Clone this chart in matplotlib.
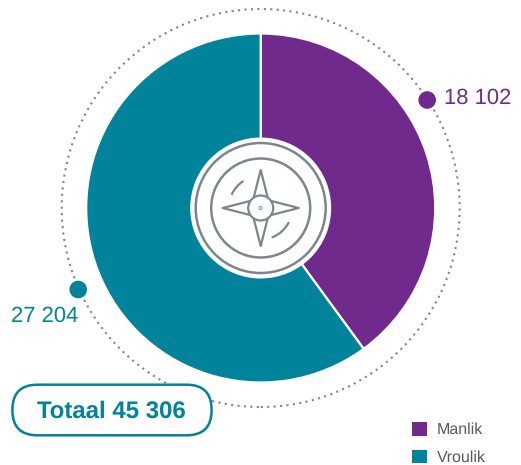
import matplotlib
matplotlib.use('Agg')
import matplotlib.pyplot as plt
import numpy as np
from matplotlib.patches import Circle, FancyBboxPatch, Patch, Arc, Polygon

categories = ['Manlik', 'Vroulik']
values = [18102, 27204]
value_labels = ['18 102', '27 204']
total_label = 'Totaal 45 306'

PURPLE = '#6F2A8C'
TEAL = '#00839B'
GREY = '#7B8691'

plt.rcParams['font.family'] = ['Liberation Sans', 'DejaVu Sans']
plt.rcParams['text.hinting'] = 'no_hinting'
plt.rcParams['text.hinting_factor'] = 1

fig = plt.figure(figsize=(5.21, 4.65), dpi=100)
ax = fig.add_axes([0, 0, 1, 1])

# pie centred on the origin, axes units are pixels
ax.pie(values, colors=[PURPLE, TEAL], startangle=90, counterclock=False,
       radius=174.5, center=(0, 0), frame=True,
       wedgeprops={'edgecolor': 'white', 'linewidth': 1.6})

ax.set_xlim(-260.7, 260.3)
ax.set_ylim(-257, 208)
ax.set_aspect('equal')
ax.axis('off')

# dotted outer ring
ax.add_patch(Circle((0, 0), 199, fill=False, edgecolor=GREY, linewidth=1.5,
                    linestyle=(0, (1, 2.1)), zorder=1))

# compass icon
ax.add_patch(Circle((0, 0), 70.5, facecolor='white', edgecolor='none', zorder=3))
ax.add_patch(Circle((0, 0), 65, fill=False, edgecolor=GREY, linewidth=1.8, zorder=4))
ax.add_patch(Circle((0, 0), 49.5, fill=False, edgecolor=GREY, linewidth=1.8, zorder=4))
ax.add_patch(Circle((0, 0), 12.5, fill=False, edgecolor=GREY, linewidth=1.6, zorder=5))
ax.add_patch(Circle((0, 0), 1.6, fill=False, edgecolor=GREY, linewidth=0.6, zorder=5))

for ang in [0, 90, 180, 270]:
    t = np.deg2rad(ang)
    tip = (38 * np.cos(t), 38 * np.sin(t))
    s1 = (12.5 * np.cos(t + 0.6), 12.5 * np.sin(t + 0.6))
    s2 = (12.5 * np.cos(t - 0.6), 12.5 * np.sin(t - 0.6))
    ax.add_patch(Polygon([s1, tip, s2], closed=False, fill=False, edgecolor=GREY,
                         linewidth=1.6, joinstyle='round', zorder=5))

ax.add_patch(Arc((0, 0), 64, 64, theta1=124, theta2=154, edgecolor=GREY,
                 linewidth=1.6, capstyle='round', zorder=5))
ax.add_patch(Arc((0, 0), 63, 63, theta1=292, theta2=332, edgecolor=GREY,
                 linewidth=1.6, capstyle='round', zorder=5))

# value markers and labels
ax.add_patch(Circle((166.5, 108), 8.8, facecolor=PURPLE, edgecolor='none', zorder=6))
ax.add_patch(Circle((-182.5, -81.5), 8.8, facecolor=TEAL, edgecolor='none', zorder=6))
ax.text(183.2, 109.5, value_labels[0], color=PURPLE, fontsize=16, ha='left', va='center')
ax.text(-182, -108, value_labels[1], color=TEAL, fontsize=16, ha='right', va='center')

# total pill
pill = FancyBboxPatch((-223.5, -202.5), 149.6, 1, boxstyle='round,pad=24.8,rounding_size=25',
                      facecolor='white', edgecolor=TEAL, linewidth=1.8, zorder=7)
ax.add_patch(pill)
ax.text(-149.5, -203.5, total_label, color=TEAL, fontsize=17.2, fontweight='bold',
        ha='center', va='center', zorder=8)

handles = [Patch(facecolor=PURPLE, edgecolor='none'), Patch(facecolor=TEAL, edgecolor='none')]
ax.legend(handles, categories, loc='upper left', bbox_to_anchor=(151.5, -214),
          bbox_transform=ax.transData, frameon=False, fontsize=11.5,
          labelcolor='#595959', borderpad=0, borderaxespad=0, handlelength=0.94,
          handleheight=0.94, handletextpad=0.62, labelspacing=0.76)

fig.savefig('out.png', dpi=100)
